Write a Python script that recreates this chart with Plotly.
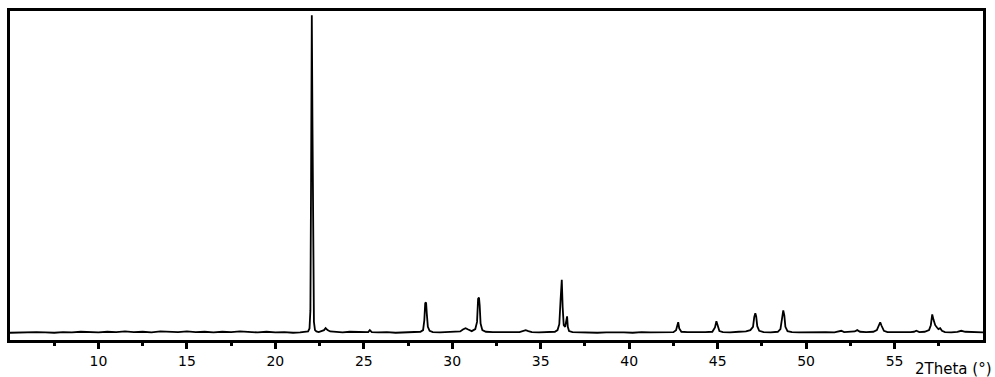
import plotly.graph_objects as go

two_theta = [
    5.0, 5.5, 6.0, 6.5, 7.0, 7.5, 8.0, 8.5, 9.0, 9.5,
    10.0, 10.5, 11.0, 11.5, 12.0, 12.5, 13.0, 13.5, 14.0, 14.5,
    15.0, 15.5, 16.0, 16.5, 17.0, 17.5, 18.0, 18.5, 19.0, 19.5,
    20.0, 20.5, 21.0, 21.4, 21.7, 21.85, 21.93, 21.98, 22.02, 22.06,
    22.1, 22.14, 22.18, 22.24, 22.32, 22.45, 22.6, 22.75, 22.84, 22.95,
    23.1, 23.4, 23.8, 24.2, 24.6, 25.0, 25.25, 25.34, 25.45, 25.8,
    26.3, 26.8, 27.3, 27.8, 28.2, 28.35, 28.42, 28.47, 28.52, 28.56,
    28.62, 28.72, 28.9, 29.3, 29.8, 30.2, 30.45, 30.6, 30.75, 30.9,
    31.1, 31.3, 31.4, 31.46, 31.51, 31.55, 31.6, 31.7, 31.9, 32.3,
    32.8, 33.3, 33.8, 34.0, 34.15, 34.3, 34.5, 34.9, 35.4, 35.8,
    35.95, 36.05, 36.12, 36.19, 36.24, 36.3, 36.38, 36.44, 36.49, 36.53,
    36.6, 36.8, 37.2, 37.7, 38.2, 38.7, 39.2, 39.7, 40.2, 40.7,
    41.2, 41.7, 42.2, 42.5, 42.65, 42.72, 42.77, 42.83, 42.95, 43.3,
    43.8, 44.3, 44.7, 44.85, 44.93, 45.0, 45.1, 45.3, 45.7, 46.2,
    46.6, 46.85, 47.0, 47.07, 47.13, 47.18, 47.24, 47.35, 47.6, 48.0,
    48.4, 48.55, 48.64, 48.71, 48.77, 48.83, 48.95, 49.2, 49.6, 50.1,
    50.6, 51.1, 51.6, 51.85, 51.99, 52.15, 52.5, 52.75, 52.89, 53.05,
    53.4, 53.8, 54.0, 54.1, 54.19, 54.26, 54.4, 54.6, 55.0, 55.5,
    55.9, 56.1, 56.23, 56.4, 56.7, 56.95, 57.05, 57.13, 57.2, 57.3,
    57.4, 57.48, 57.58, 57.68, 57.85, 58.2, 58.55, 58.77, 59.0, 59.4,
    59.8, 60.0,
]

intensity = [
    22, 23, 22, 24, 23, 22, 24, 23, 25, 24,
    23, 25, 24, 26, 24, 25, 23, 26, 25, 24,
    26, 24, 25, 23, 25, 24, 26, 24, 23, 25,
    23, 24, 22, 23, 24, 26, 35, 90, 500, 987,
    640, 160, 55, 30, 26, 24, 26, 30, 36, 30,
    26, 24, 23, 25, 24, 23, 24, 30, 24, 23,
    24, 22, 23, 24, 25, 30, 60, 112, 114, 80,
    40, 28, 24, 23, 24, 25, 26, 32, 36, 32,
    27, 33, 55, 125, 129, 105, 50, 30, 25, 24,
    23, 24, 24, 27, 30, 27, 24, 23, 24, 25,
    30, 48, 120, 183, 100, 45, 40, 58, 72, 40,
    27, 24, 23, 24, 22, 23, 24, 23, 22, 24,
    23, 24, 23, 24, 30, 50, 54, 35, 25, 24,
    23, 24, 25, 38, 57, 42, 27, 24, 23, 25,
    26, 30, 40, 70, 81, 72, 42, 28, 24, 23,
    25, 33, 70, 90, 75, 40, 27, 24, 23, 24,
    23, 24, 23, 25, 28, 24, 24, 26, 30, 25,
    24, 25, 30, 45, 54, 44, 28, 24, 23, 24,
    24, 25, 28, 24, 25, 30, 45, 78, 62, 45,
    38, 33, 36, 28, 24, 23, 25, 28, 25, 24,
    23, 23,
]

tick_vals = [10, 15, 20, 25, 30, 35, 40, 45, 50, 55]
tick_text = ["10", "15", "20", "25", "30", "35", "40", "45", "50", "55"]
minor_vals = [7.5, 12.5, 17.5, 22.5, 27.5, 32.5, 37.5, 42.5, 47.5, 52.5, 57.5]
x_title = "2Theta (°)"

assert len(two_theta) == len(intensity)

font = dict(family="DejaVu Sans", size=14, color="black")

fig = go.Figure(
    go.Scatter(
        x=two_theta, y=intensity, mode="lines",
        line=dict(color="black", width=1.8), hoverinfo="skip",
    )
)

fig.update_layout(
    width=995, height=377,
    margin=dict(l=10, r=12, t=8, b=36),
    plot_bgcolor="white", paper_bgcolor="white",
    showlegend=False,
)

fig.update_xaxes(
    range=[5, 60],
    tickmode="array", tickvals=tick_vals, ticktext=tick_text,
    ticks="outside", ticklen=6, tickwidth=2.5, tickcolor="black",
    showline=True, linewidth=2.5, linecolor="black", mirror=True,
    showgrid=False, zeroline=False, tickfont=font,
    minor=dict(tickmode="array", tickvals=minor_vals, ticks="outside",
               ticklen=3, tickwidth=2.5, tickcolor="black", showgrid=False),
)

fig.update_yaxes(
    range=[0, 1000], showticklabels=False, ticks="",
    showline=True, linewidth=2.5, linecolor="black", mirror=True,
    showgrid=False, zeroline=False,
)

fig.add_annotation(
    text=x_title, xref="paper", yref="paper",
    x=1.0103, y=-0.058, xanchor="right", yanchor="top",
    showarrow=False, borderpad=0,
    font=dict(family="DejaVu Sans", size=15, color="black"),
)

fig.write_html(
    "out.html",
    config={"displayModeBar": False},
    post_script="document.body.style.margin='0';document.body.style.overflow='hidden';",
)
